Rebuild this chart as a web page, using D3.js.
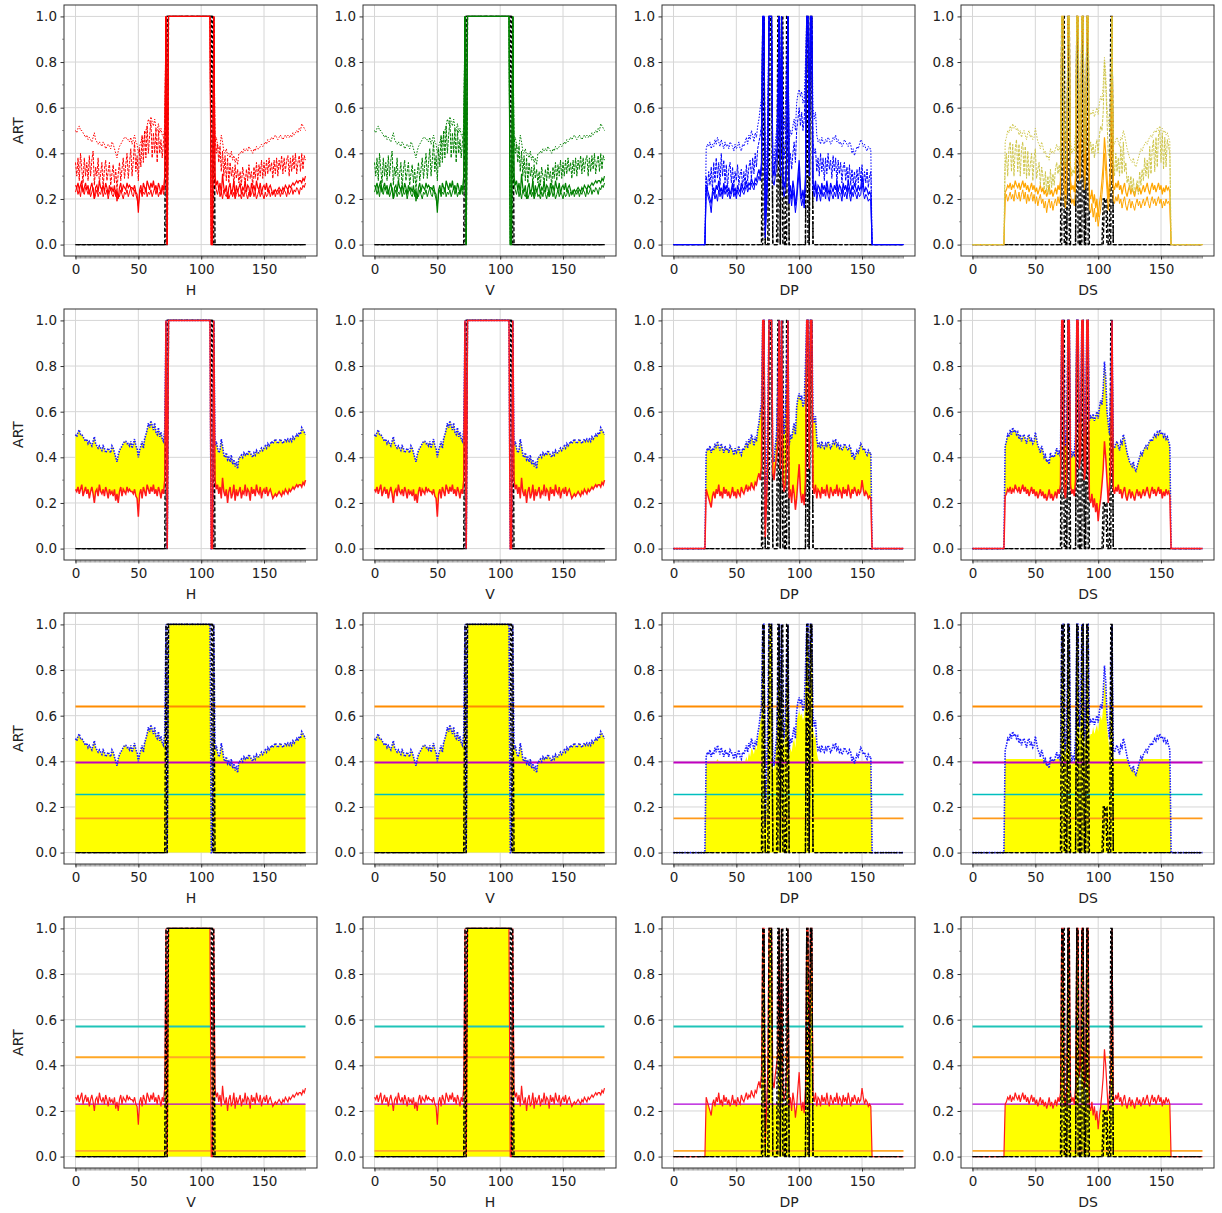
<!DOCTYPE html>
<html><head><meta charset="utf-8">
<script src="https://cdn.jsdelivr.net/npm/d3@7"></script>
<style>
body{margin:0;background:#fff}
svg{display:block}
text{font-family:"DejaVu Sans",sans-serif}
</style>
</head><body>
<svg id="chart" width="1222" height="1213"></svg>
<script>
// ---------------- data ----------------
const N = 184;                       // sample positions 0..183
const xLabels = [["H","V","DP","DS"],["H","V","DP","DS"],["H","V","DP","DS"],["V","H","DP","DS"]];
const yLabel = "ART";
const xTicks = [0, 50, 100, 150];
const yTicks = [0, 0.2, 0.4, 0.6, 0.8, 1.0];
const row1Colors = ["red", "green", "blue", "orange"];
const row1Alt = ["red", "green", "blue", "#cfc64a"];
const row3Levels = [0.64, 0.395, 0.255, 0.15];
const row3LevelColors = ["#ff8c00", "#c000c0", "#00bfbf", "#ff9a1a"];
const row4Levels = [0.57, 0.435, 0.23, 0.025];
const row4LevelColors = ["#1fc4b8", "#ffa726", "#b000d8", "#ffa726"];

// H / V profile: x = 0..71, plateau x = 72..110, x = 111..183
const hCore = [1, 0,
  1,1,1,1,1,1,1,1,1,1, 1,1,1,1,1,1,1,1,1,1, 1,1,1,1,1,1,1,1,1,1, 1,1,1,1,
  0, 0, 1];
const hMaxL = [
  .50,.49,.51,.52,.50,.50,.49,.48,.47,.48,
  .46,.47,.46,.45,.47,.49,.46,.45,.44,.45,
  .44,.43,.45,.44,.42,.43,.44,.43,.42,.45,
  .44,.42,.40,.38,.41,.43,.44,.45,.46,.47,
  .47,.46,.46,.45,.47,.44,.46,.48,.45,.44,
  .40,.43,.45,.47,.44,.48,.50,.52,.55,.53,
  .56,.54,.52,.55,.51,.50,.53,.49,.51,.48,
  .47,.52];
const hMaxR = [
  .45,.47,.44,.42,.43,.48,.45,.41,.40,.42,
  .39,.40,.38,.41,.37,.39,.36,.38,.35,.40,
  .40,.41,.40,.42,.41,.42,.41,.43,.42,.41,
  .40,.42,.41,.43,.42,.42,.43,.44,.43,.44,
  .45,.44,.46,.45,.46,.47,.46,.47,.48,.47,
  .46,.47,.48,.47,.46,.47,.48,.47,.48,.47,
  .48,.47,.49,.48,.49,.50,.49,.51,.50,.53,
  .52,.51,.50];
const hBaseL = [
  .26,.25,.27,.24,.26,.28,.23,.25,.27,.24,
  .26,.22,.25,.27,.24,.20,.25,.26,.23,.28,
  .25,.24,.26,.23,.27,.25,.22,.26,.24,.25,
  .23,.26,.21,.24,.20,.25,.27,.23,.26,.25,
  .24,.27,.25,.26,.25,.25,.24,.26,.23,.22,
  .14,.24,.26,.22,.27,.25,.23,.28,.26,.24,
  .27,.25,.28,.24,.26,.23,.27,.25,.22,.26,
  .24,.30];
const hBaseR = [
  .30,.26,.28,.24,.27,.22,.31,.25,.23,.26,
  .20,.25,.27,.22,.24,.28,.21,.26,.23,.25,
  .27,.22,.25,.24,.28,.23,.26,.25,.21,.27,
  .24,.26,.23,.28,.25,.24,.27,.22,.25,.26,
  .24,.27,.23,.25,.26,.24,.22,.23,.24,.23,
  .24,.25,.24,.23,.25,.24,.26,.25,.24,.26,
  .25,.26,.27,.26,.27,.28,.27,.28,.28,.27,
  .29,.28,.30];
const hMidL = [
  .36,.30,.38,.28,.40,.33,.27,.38,.30,.36,
  .28,.39,.30,.37,.41,.26,.34,.30,.38,.27,
  .31,.36,.25,.33,.37,.28,.32,.36,.26,.31,
  .35,.27,.33,.24,.31,.36,.28,.33,.38,.29,
  .35,.40,.29,.36,.42,.30,.37,.45,.32,.39,
  .28,.42,.34,.48,.36,.50,.38,.52,.40,.48,
  .54,.38,.49,.40,.51,.36,.50,.40,.46,.38,
  .45,.50];
const hMidR = [
  .48,.40,.44,.36,.43,.32,.41,.30,.39,.28,
  .38,.27,.36,.30,.34,.26,.35,.29,.33,.27,
  .32,.26,.34,.30,.27,.33,.28,.35,.29,.32,
  .26,.34,.29,.36,.28,.35,.30,.37,.29,.36,
  .30,.37,.31,.38,.32,.36,.29,.37,.31,.38,
  .30,.37,.33,.39,.31,.38,.32,.37,.39,.30,
  .38,.32,.39,.33,.40,.31,.36,.39,.32,.40,
  .33,.39,.37];
const hLowL = [
  .23,.25,.22,.24,.21,.26,.23,.22,.25,.24,
  .22,.24,.21,.23,.25,.20,.22,.24,.21,.23,
  .22,.25,.21,.23,.22,.24,.20,.23,.25,.22,
  .21,.23,.24,.19,.22,.21,.24,.22,.20,.23,
  .22,.24,.21,.23,.25,.22,.21,.24,.22,.20,
  .17,.22,.24,.21,.23,.22,.25,.21,.23,.22,
  .24,.21,.23,.25,.22,.24,.21,.23,.22,.25,
  .22,.26];
const hLowR = [
  .27,.24,.22,.25,.21,.23,.20,.24,.22,.21,
  .23,.20,.22,.24,.21,.23,.20,.22,.24,.21,
  .22,.20,.23,.21,.24,.22,.20,.23,.21,.22,
  .24,.21,.23,.20,.22,.24,.21,.23,.22,.20,
  .23,.21,.22,.24,.21,.23,.22,.24,.21,.23,
  .22,.24,.21,.23,.22,.24,.23,.21,.24,.22,
  .23,.25,.22,.24,.23,.25,.24,.22,.25,.24,
  .26,.25,.27];
// reference (ground-truth) steps: [from, to, level]
const hTruth = [[[72, 110, 1]], [[73, 109, 1]], [[74, 108, 1]]];

// DP / DS profiles: x = 26..157, zero outside
const winStart = 26, winEnd = 157;
const dpMax = [
  .42,.44,.43,.45,.42,.44,.43,.46,.44,.47,
  .45,.43,.46,.44,.42,.45,.43,.44,.42,.45,
  .44,.43,.41,.44,.42,.43,.45,.42,.41,.44,
  .43,.45,.47,.44,.48,.46,.50,.48,.45,.49,
  .47,.52,.55,.60,.64,1,1,.12,.30,.60,
  1,1,1,.40,.38,.45,.50,.70,1,.60,
  1,.55,.50,.60,.80,1,.45,.50,.48,.52,
  .55,.50,.62,.66,.68,.65,.67,.62,.64,.80,
  1,1,.70,1,1,.60,.55,.58,.48,.45,
  .46,.44,.47,.45,.44,.46,.45,.47,.46,.44,
  .45,.47,.46,.48,.45,.46,.44,.45,.43,.44,
  .46,.45,.44,.43,.45,.44,.40,.42,.39,.41,
  .43,.42,.44,.46,.45,.43,.44,.42,.41,.43,
  .42,.42];
const dpBase = [
  .26,.24,.22,.20,.18,.23,.25,.22,.26,.24,
  .28,.23,.25,.22,.27,.24,.26,.23,.25,.22,
  .24,.27,.23,.25,.22,.26,.24,.23,.27,.25,
  .24,.26,.28,.25,.27,.26,.29,.27,.26,.29,
  .28,.31,.33,.30,.36,1,1,.05,.20,.38,
  1,1,1,.33,.30,.36,.40,.45,1,.35,
  1,.30,.25,.28,.38,1,.22,.26,.20,.28,
  .24,.17,.22,.30,.37,.25,.20,.24,.19,.30,
  1,1,.35,1,1,.27,.24,.28,.22,.26,
  .25,.22,.27,.24,.26,.23,.28,.24,.22,.27,
  .25,.23,.26,.24,.28,.23,.26,.25,.22,.27,
  .24,.26,.23,.28,.25,.22,.26,.24,.27,.25,
  .23,.26,.24,.25,.30,.26,.23,.25,.24,.22,
  .23,.22];
const dpMid = [
  .30,.24,.32,.26,.34,.24,.36,.27,.38,.29,
  .36,.26,.40,.30,.37,.27,.35,.25,.33,.36,
  .27,.34,.25,.32,.28,.35,.26,.31,.33,.25,
  .32,.26,.35,.28,.34,.37,.29,.38,.31,.40,
  .34,.42,.45,.48,.52,1,1,.10,.25,.50,
  1,1,1,.36,.33,.40,.45,.58,1,.48,
  1,.42,.38,.45,.65,1,.35,.40,.33,.40,
  .45,.36,.50,.55,.60,.52,.58,.50,.55,.70,
  1,1,.60,1,1,.45,.40,.42,.32,.38,
  .30,.40,.32,.38,.28,.38,.31,.40,.33,.37,
  .29,.39,.32,.38,.27,.37,.31,.36,.27,.34,
  .36,.28,.34,.27,.35,.26,.33,.27,.32,.26,
  .33,.27,.34,.28,.35,.26,.32,.27,.33,.25,
  .30,.32];
const dpLow = [
  .24,.22,.20,.18,.14,.21,.23,.20,.22,.19,
  .24,.21,.23,.20,.25,.22,.24,.21,.23,.20,
  .22,.25,.21,.23,.20,.24,.22,.21,.25,.23,
  .22,.24,.26,.23,.25,.24,.27,.25,.24,.27,
  .26,.28,.30,.28,.32,1,1,.03,.15,.30,
  1,1,1,.28,.26,.30,.34,.40,1,.30,
  1,.25,.21,.24,.32,1,.18,.22,.17,.24,
  .20,.14,.19,.26,.32,.21,.17,.20,.16,.26,
  1,1,.30,1,1,.24,.21,.25,.19,.23,
  .22,.19,.24,.21,.23,.20,.25,.21,.19,.24,
  .22,.20,.23,.21,.25,.20,.23,.22,.19,.24,
  .21,.23,.20,.25,.22,.19,.23,.21,.24,.22,
  .20,.23,.21,.22,.27,.23,.20,.22,.21,.19,
  .20,.19];
const dpFill = [
  .40,.40,.40,.40,.40,.40,.40,.40,.40,.41,
  .40,.40,.40,.40,.40,.40,.40,.40,.40,.40,
  .40,.40,.40,.40,.40,.40,.40,.40,.40,.40,
  .40,.40,.42,.40,.44,.42,.46,.45,.43,.47,
  .45,.50,.52,.57,.60,1,1,.10,.28,.55,
  1,1,1,.38,.36,.42,.48,.66,1,.56,
  1,.50,.46,.55,.75,1,.42,.46,.44,.48,
  .50,.46,.58,.60,.62,.60,.61,.58,.60,.75,
  1,1,.65,1,1,.55,.50,.52,.44,.41,
  .40,.40,.40,.40,.40,.40,.40,.40,.40,.40,
  .40,.40,.40,.40,.40,.40,.40,.40,.40,.40,
  .40,.40,.40,.40,.40,.40,.39,.40,.39,.40,
  .40,.40,.40,.40,.40,.40,.40,.40,.40,.40,
  .40,.40];
const dpTruth = [
  [[71,72,1],[76,78,1],[84,84,1],[86,86,1],[91,91,1],[106,107,1],[109,110,1]],
  [[72,72,1],[77,78,1],[83,84,1],[86,87,1],[90,91,1],[106,106,1],[109,110,1]]
];

const dsMax = [
  .45,.47,.50,.49,.52,.50,.53,.51,.52,.50,
  .51,.48,.50,.47,.49,.50,.48,.46,.49,.50,
  .47,.48,.46,.47,.51,.48,.45,.44,.42,.45,
  .43,.40,.41,.38,.39,.37,.42,.40,.41,.40,
  .42,.44,.41,.43,.40,1,1,.50,.45,.55,
  1,1,.45,.40,.42,.41,.50,1,1,.55,
  .60,1,1,.50,.55,1,1,.56,.58,.57,
  .59,.56,.58,.60,.57,.62,.65,.63,.70,.82,
  .75,.60,.55,.50,.70,1,.45,.44,.46,.47,
  .45,.43,.47,.46,.50,.48,.45,.42,.40,.38,
  .37,.36,.38,.35,.34,.36,.38,.40,.42,.41,
  .43,.44,.45,.44,.46,.47,.48,.47,.49,.50,
  .49,.51,.50,.52,.50,.51,.49,.50,.48,.49,
  .47,.45];
const dsBase = [
  .23,.24,.26,.25,.27,.24,.26,.25,.28,.26,
  .25,.27,.24,.26,.28,.25,.27,.24,.26,.23,
  .25,.27,.24,.26,.23,.25,.22,.24,.26,.23,
  .25,.22,.24,.21,.23,.26,.22,.24,.21,.23,
  .25,.22,.26,.24,.28,1,1,.25,.22,.30,
  1,1,.28,.24,.26,.23,.30,1,1,.35,
  .40,1,1,.30,.35,1,1,.22,.20,.24,
  .18,.22,.16,.20,.12,.18,.22,.28,.35,.47,
  .40,.30,.20,.28,.35,1,.26,.24,.27,.25,
  .28,.24,.26,.22,.25,.27,.23,.21,.24,.26,
  .22,.25,.23,.21,.24,.26,.23,.25,.22,.24,
  .26,.23,.25,.27,.24,.22,.25,.27,.24,.26,
  .23,.25,.27,.24,.26,.22,.25,.23,.26,.24,
  .25,.23];
const dsMid = [
  .35,.40,.30,.42,.45,.32,.44,.30,.42,.46,
  .32,.44,.30,.42,.45,.31,.43,.29,.41,.30,
  .35,.40,.28,.38,.42,.29,.33,.36,.26,.34,
  .30,.24,.32,.23,.30,.22,.33,.25,.31,.26,
  .33,.36,.31,.35,.30,1,1,.38,.34,.42,
  1,1,.35,.30,.33,.31,.40,1,1,.45,
  .50,1,1,.40,.45,1,1,.42,.45,.40,
  .44,.38,.43,.46,.40,.48,.52,.50,.58,.80,
  .70,.55,.40,.38,.50,1,.38,.30,.40,.32,
  .38,.30,.43,.31,.45,.32,.36,.27,.30,.24,
  .30,.23,.29,.22,.25,.28,.22,.32,.26,.33,
  .28,.38,.30,.37,.29,.43,.31,.42,.46,.32,
  .47,.34,.48,.50,.36,.49,.33,.47,.34,.46,
  .43,.40];
const dsLow = [
  .20,.22,.19,.21,.23,.20,.22,.19,.24,.21,
  .20,.23,.19,.22,.24,.20,.23,.18,.22,.19,
  .21,.23,.19,.22,.18,.21,.17,.20,.22,.18,
  .20,.16,.19,.14,.18,.20,.16,.19,.15,.18,
  .20,.17,.21,.18,.22,1,1,.20,.16,.24,
  1,1,.22,.18,.20,.17,.25,1,1,.28,
  .30,1,1,.24,.28,1,1,.16,.14,.18,
  .12,.16,.10,.14,.08,.12,.16,.22,.28,.40,
  .32,.24,.15,.22,.28,1,.20,.18,.21,.19,
  .22,.18,.20,.16,.19,.21,.17,.15,.18,.20,
  .16,.19,.17,.15,.18,.20,.17,.19,.16,.18,
  .20,.17,.19,.21,.18,.16,.19,.21,.18,.20,
  .17,.19,.21,.18,.20,.16,.19,.17,.20,.18,
  .19,.17];
const dsFill = [
  .41,.41,.41,.41,.41,.41,.41,.41,.41,.41,
  .41,.41,.41,.41,.41,.41,.41,.41,.41,.41,
  .41,.41,.41,.41,.41,.41,.41,.41,.41,.41,
  .41,.40,.41,.38,.39,.37,.41,.40,.41,.40,
  .41,.41,.41,.41,.40,1,1,.45,.42,.50,
  1,1,.42,.38,.40,.39,.46,1,1,.50,
  .55,1,1,.45,.50,1,1,.50,.52,.52,
  .55,.52,.54,.56,.53,.58,.60,.58,.64,.76,
  .70,.55,.50,.45,.62,1,.41,.41,.41,.41,
  .41,.41,.41,.41,.41,.41,.41,.41,.40,.38,
  .37,.36,.38,.35,.34,.36,.38,.40,.41,.41,
  .41,.41,.41,.41,.41,.41,.41,.41,.41,.41,
  .41,.41,.41,.41,.41,.41,.41,.41,.41,.41,
  .41,.41];
const dsTruth = [
  [[71,72,1],[76,77,1],[83,84,1],[87,88,1],[91,92,1],[105,107,0.2],[111,111,1]],
  [[72,73,1],[76,76,1],[83,83,1],[88,88,1],[91,91,1],[104,106,0.2],[110,111,1]]
];

// ---------------- assembly ----------------
const idx = d3.range(N);
const hSeries = (l, r) => l.concat(hCore, r);
const winSeries = v => idx.map(i => (i >= winStart && i <= winEnd) ? v[i - winStart] : 0);
const stepSeries = spans => idx.map(i => {
  for (const [a, b, lv] of spans) if (i >= a && i <= b) return lv;
  return 0;
});

function makeSet(o) {
  return {
    max: o.max, base: o.base, mid: o.mid, low: o.low, fill3: o.fill3,
    truth: o.truth.map(stepSeries)
  };
}
const hMax = hSeries(hMaxL, hMaxR);
const sets = {
  H: makeSet({max: hMax, base: hSeries(hBaseL, hBaseR), mid: hSeries(hMidL, hMidR),
              low: hSeries(hLowL, hLowR), fill3: hMax, truth: hTruth}),
  DP: makeSet({max: winSeries(dpMax), base: winSeries(dpBase), mid: winSeries(dpMid),
               low: winSeries(dpLow), fill3: winSeries(dpFill), truth: dpTruth}),
  DS: makeSet({max: winSeries(dsMax), base: winSeries(dsBase), mid: winSeries(dsMid),
               low: winSeries(dsLow), fill3: winSeries(dsFill), truth: dsTruth})
};
const colSet = ["H", "H", "DP", "DS"];

// ---------------- layout ----------------
const colLeft = [64, 363, 662, 961];
const rowTop = [5, 309, 613, 917];
const PW = 253, PH = 251;

const svg = d3.select("#chart");
const x = d3.scaleLinear().domain([-9.15, 192.15]).range([0, PW]);
const y = d3.scaleLinear().domain([-0.05, 1.05]).range([PH, 0]);

const line = d3.line().x((d, i) => x(i)).y(d => y(d));
const areaBand = (lo, hi) => d3.area().x((d, i) => x(i)).y0((d, i) => y(lo[i])).y1((d, i) => y(hi[i]))(idx);

function drawTruth(g, s) {
  s.truth.forEach((t, k) => {
    g.append("path").attr("d", line(t)).attr("fill", "none")
      .attr("stroke", "#000").attr("stroke-width", 1.4)
      .attr("stroke-dasharray", k ? "3,2" : "4,2")
      .attr("stroke-dashoffset", k * 2);
  });
}
function drawLevels(g, levels, colors, widths) {
  levels.forEach((lv, k) => {
    g.append("line").attr("x1", x(0)).attr("x2", x(N - 1))
      .attr("y1", y(lv)).attr("y2", y(lv))
      .attr("stroke", colors[k]).attr("stroke-width", widths[k]);
  });
}

for (let r = 0; r < 4; r++) {
  for (let c = 0; c < 4; c++) {
    const g = svg.append("g").attr("transform", `translate(${colLeft[c]},${rowTop[r]})`);
    const s = sets[colSet[c]];

    // grid
    const grid = g.append("g");
    xTicks.forEach(t => grid.append("line").attr("x1", x(t)).attr("x2", x(t)).attr("y1", 0).attr("y2", PH)
      .attr("stroke", "#d6d6d6").attr("stroke-width", 1));
    yTicks.forEach(t => grid.append("line").attr("x1", 0).attr("x2", PW).attr("y1", y(t)).attr("y2", y(t))
      .attr("stroke", "#d6d6d6").attr("stroke-width", 1));

    const marks = g.append("g");

    if (r === 0) {
      drawTruth(marks, s);
      const col = row1Colors[c], alt = row1Alt[c];
      marks.append("path").attr("d", line(s.low)).attr("fill", "none").attr("stroke", col).attr("stroke-width", 1);
      marks.append("path").attr("d", line(s.base)).attr("fill", "none").attr("stroke", col).attr("stroke-width", 1.2);
      marks.append("path").attr("d", line(s.mid)).attr("fill", "none").attr("stroke", alt).attr("stroke-width", 1)
        .attr("stroke-dasharray", "3,1.2");
      marks.append("path").attr("d", line(s.max)).attr("fill", "none").attr("stroke", alt).attr("stroke-width", 1)
        .attr("stroke-dasharray", "1.5,1.5");
    } else if (r === 1) {
      marks.append("path").attr("d", areaBand(s.base, s.max)).attr("fill", "#ffff00");
      drawTruth(marks, s);
      marks.append("path").attr("d", line(s.max)).attr("fill", "none").attr("stroke", "#1a1aff")
        .attr("stroke-width", 1.6).attr("stroke-dasharray", "1.5,1.2");
      marks.append("path").attr("d", line(s.base)).attr("fill", "none").attr("stroke", "#ff1a1a").attr("stroke-width", 1.5);
    } else if (r === 2) {
      const zero = idx.map(() => 0);
      marks.append("path").attr("d", areaBand(zero, s.fill3)).attr("fill", "#ffff00");
      drawLevels(marks, row3Levels, row3LevelColors, [2, 2, 1.5, 1.6]);
      marks.append("path").attr("d", line(s.max)).attr("fill", "none").attr("stroke", "#1a1aff")
        .attr("stroke-width", 1.6).attr("stroke-dasharray", "1.5,1.2");
      drawTruth(marks, s);
    } else {
      const zero = idx.map(() => 0);
      // shaded part: the curve itself where it passes the top level, otherwise held under the middle level
      const fill4 = s.base.map(v => v >= row4Levels[0] ? v : Math.min(v, row4Levels[2]));
      marks.append("path").attr("d", areaBand(zero, fill4)).attr("fill", "#ffff00");
      drawLevels(marks, row4Levels, row4LevelColors, [2, 2, 1.4, 1.6]);
      marks.append("path").attr("d", line(s.base)).attr("fill", "none").attr("stroke", "#ff1a1a").attr("stroke-width", 1.2);
      drawTruth(marks, s);
    }

    // minor ticks
    const minor = g.append("g").attr("stroke", "#555").attr("stroke-width", 0.6);
    idx.forEach(i => minor.append("line").attr("x1", x(i)).attr("x2", x(i)).attr("y1", PH).attr("y2", PH + 2.5));
    [0.1, 0.3, 0.5, 0.7, 0.9].forEach(t => minor.append("line").attr("x1", 0).attr("x2", -2)
      .attr("y1", y(t)).attr("y2", y(t)));

    // axes
    const ax = g.append("g").attr("transform", `translate(0,${PH})`)
      .call(d3.axisBottom(x).tickValues(xTicks).tickSize(3.5).tickPadding(4.5));
    const ay = g.append("g")
      .call(d3.axisLeft(y).tickValues(yTicks).tickFormat(d3.format(".1f")).tickSize(3.5).tickPadding(3.5));
    [ax, ay].forEach(a => {
      a.select(".domain").remove();
      a.selectAll("line").attr("stroke", "#333");
      a.selectAll("text").attr("fill", "#222").style("font-size", "13.5px");
    });

    // frame
    g.append("rect").attr("x", 0).attr("y", 0).attr("width", PW).attr("height", PH)
      .attr("fill", "none").attr("stroke", "#333").attr("stroke-width", 1);

    // labels
    g.append("text").attr("x", x(92)).attr("y", PH + 39).attr("text-anchor", "middle")
      .attr("fill", "#222").style("font-size", "14px").text(xLabels[r][c]);
    if (c === 0) {
      g.append("text").attr("transform", `translate(${-41},${PH / 2}) rotate(-90)`)
        .attr("text-anchor", "middle").attr("fill", "#222").style("font-size", "14px").text(yLabel);
    }
  }
}
</script>
</body></html>
